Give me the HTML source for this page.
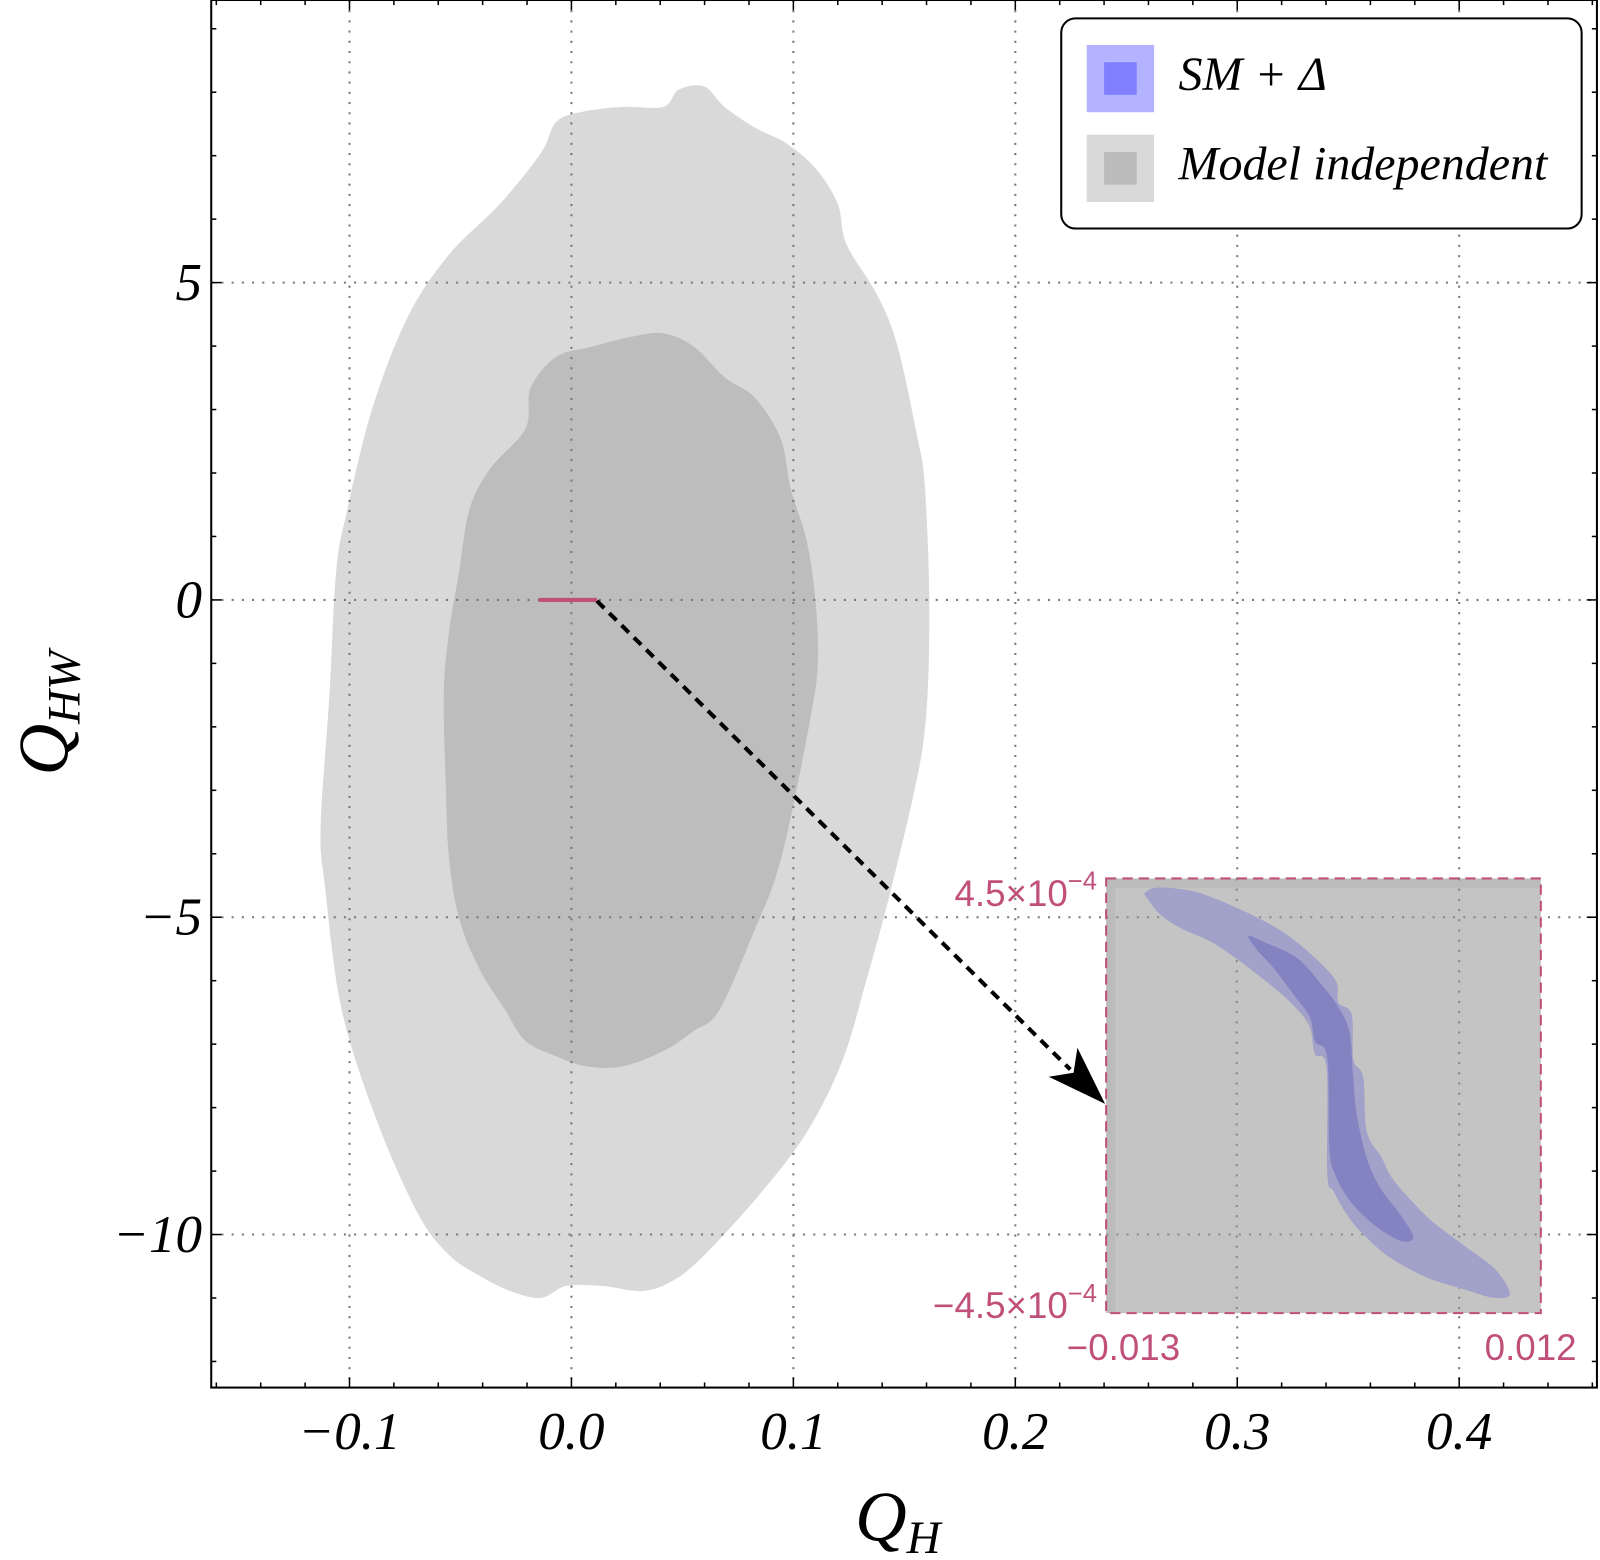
<!DOCTYPE html>
<html><head><meta charset="utf-8"><style>
html,body{margin:0;padding:0;background:#fff;}
svg{display:block;}
text{font-family:"Liberation Serif","DejaVu Serif",serif;}
</style></head><body>
<svg id="chart" width="1600" height="1560" viewBox="0 0 1568 1529" preserveAspectRatio="none" xmlns="http://www.w3.org/2000/svg">
<g id="plot"></g>
</svg>
<script>
// ---- data ----
const xTicks = [-0.1, 0.0, 0.1, 0.2, 0.3, 0.4];
const xTickLabels = ["\u22120.1", "0.0", "0.1", "0.2", "0.3", "0.4"];
const yTicks = [5, 0, -5, -10];
const yTickLabels = ["5", "0", "\u22125", "\u221210"];
const outerQH = [0.0483,0.0598,0.069,0.0828,0.0966,0.110,0.120,0.124,0.138,0.147,0.156,0.159,0.161,0.161,0.159,0.154,0.143,0.133,0.122,0.106,0.085,0.060,0.046,0.032,0.0138,-0.0023,-0.0138,-0.0276,-0.0414,-0.0552,-0.069,-0.0874,-0.1035,-0.111,-0.113,-0.109,-0.106,-0.101,-0.0897,-0.0736,-0.0552,-0.0322,-0.0138,-0.0069,0.0046,0.023,0.0414];
const outerQHW = [8.04,8.09,7.77,7.44,7.20,6.80,6.24,5.60,4.79,3.99,2.54,1.90,0.45,-1.00,-2.12,-3.09,-4.70,-5.98,-7.27,-8.39,-9.36,-10.32,-10.72,-10.89,-10.81,-10.81,-11.00,-10.89,-10.65,-10.32,-9.68,-8.23,-6.46,-4.53,-3.57,-1.48,0.45,1.42,3.02,4.47,5.44,6.24,7.04,7.53,7.69,7.77,7.77];
const innerQH = [0.0276,0.0414,0.0552,0.069,0.0828,0.0943,0.0989,0.106,0.110,0.111,0.108,0.0989,0.092,0.0828,0.0667,0.0552,0.0414,0.023,0.0069,-0.0069,-0.0207,-0.0299,-0.0414,-0.0506,-0.0552,-0.0566,-0.0575,-0.0552,-0.0506,-0.046,-0.0368,-0.0207,-0.0184,-0.0069,0.0092];
const innerQHW = [4.15,4.20,3.99,3.51,3.18,2.54,1.74,0.93,-0.03,-1.00,-1.80,-3.41,-4.37,-5.18,-6.46,-6.79,-7.11,-7.35,-7.35,-7.19,-6.95,-6.46,-5.82,-5.02,-4.05,-2.93,-1.48,-0.51,0.45,1.42,2.06,2.70,3.34,3.83,3.99];
const smRange = [-0.0147, 0.0115];
// inset data: x in units of 1e-3, y in units of 1e-4
const insetXRange = [-13, 12];
const insetYRange = [-4.5, 4.5];
const band2X = [-10.76,-10.09,-8.17,-6.64,-4.53,-2.62,-0.70,0.26,0.35,1.12,1.22,1.79,1.98,2.85,3.42,4.47,5.81,7.73,9.45,10.22,9.26,7.54,5.43,3.32,1.79,0.83,0.07,-0.28,-0.32,-0.99,-1.27,-1.94,-2.81,-4.05,-5.59,-7.02,-8.75,-9.90,-10.66];
const band2Y = [4.20,4.31,4.25,4.07,3.73,3.34,2.76,2.34,1.93,1.69,0.75,0.38,-0.73,-1.28,-1.69,-2.14,-2.62,-3.14,-3.62,-4.11,-4.18,-4.00,-3.76,-3.35,-2.87,-2.45,-1.97,-1.62,0.58,0.86,1.41,1.76,2.07,2.44,2.86,3.20,3.48,3.76,4.10];
const band1X = [-4.82,-3.96,-2.04,-0.70,0.26,0.99,1.18,1.41,1.98,2.75,3.90,4.67,3.90,2.37,1.03,0.16,-0.16,-0.28,-0.99,-1.27,-2.23,-3.38,-4.34];
const band1Y = [3.31,3.19,2.86,2.34,1.89,1.34,0.51,-0.38,-1.28,-1.90,-2.45,-2.93,-3.00,-2.66,-2.18,-1.62,-1.07,0.79,1.13,1.62,2.10,2.65,3.03];

// ---- layout ----
const NS = "http://www.w3.org/2000/svg";
const L = 207, R = 1565, T = 0, B = 1360;
const sx = v => 560 + v * 2175;
const sy = v => 588 - v * 62.2;
const IL = 1084, IR = 1510, IT = 861, IB = 1287;
const ix = v => IL + (v - insetXRange[0]) / (insetXRange[1] - insetXRange[0]) * (IR - IL);
const iy = v => IT + (insetYRange[1] - v) / (insetYRange[1] - insetYRange[0]) * (IB - IT);
const g = document.getElementById('plot');
function mk(tag, attrs, parent) {
  const e = document.createElementNS(NS, tag);
  for (const k in attrs) e.setAttribute(k, attrs[k]);
  (parent || g).appendChild(e);
  return e;
}
function smoothPath(xs, ys, fx, fy) {
  const p = xs.map((x, i) => [fx(x), fy(ys[i])]);
  const n = p.length;
  let d = `M${p[0][0]},${p[0][1]}`;
  for (let i = 0; i < n; i++) {
    const p0 = p[(i - 1 + n) % n], p1 = p[i], p2 = p[(i + 1) % n], p3 = p[(i + 2) % n];
    const c1 = [p1[0] + (p2[0] - p0[0]) / 6, p1[1] + (p2[1] - p0[1]) / 6];
    const c2 = [p2[0] - (p3[0] - p1[0]) / 6, p2[1] - (p3[1] - p1[1]) / 6];
    d += `C${c1[0]},${c1[1]} ${c2[0]},${c2[1]} ${p2[0]},${p2[1]}`;
  }
  return d + 'Z';
}

// contours
let e = mk('path', {d: smoothPath(outerQH, outerQHW, sx, sy), fill: '#d9d9d9'});


e = mk('path', {d: smoothPath(innerQH, innerQHW, sx, sy), fill: '#bdbdbd'});



// grid
xTicks.forEach(t => {
  const l = mk('line', {x1: sx(t), x2: sx(t), y1: T, y2: B, stroke: '#777', 'stroke-width': 2, 'stroke-dasharray': '2 8'});
  
  
});
yTicks.forEach(t => {
  const l = mk('line', {x1: L, x2: R, y1: sy(t), y2: sy(t), stroke: '#777', 'stroke-width': 2, 'stroke-dasharray': '2 8'});
  
  
});

// inset
e = mk('rect', {x: IL, y: IT, width: IR - IL, height: IB - IT, fill: '#bbbbbb'});


e = mk('rect', {x: IL + 9, y: IT + 9, width: IR - IL - 9, height: IB - IT - 9, fill: '#c4c4c4'});


[1212, 1430].forEach(x => {
  const l = mk('line', {x1: x, x2: x, y1: IT, y2: IB, stroke: '#888', 'stroke-width': 2, 'stroke-dasharray': '2 8'});
  
  
});
[sy(-5), sy(-10)].forEach(y => {
  const l = mk('line', {x1: IL, x2: IR, y1: y, y2: y, stroke: '#888', 'stroke-width': 2, 'stroke-dasharray': '2 8'});
  
  
});
e = mk('path', {d: smoothPath(band2X, band2Y, ix, iy), fill: '#a1a1c9'});


e = mk('path', {d: smoothPath(band1X, band1Y, ix, iy), fill: '#8383c1'});


e = mk('rect', {x: IL, y: IT, width: IR - IL, height: IB - IT, fill: 'none', stroke: '#c0507a', 'stroke-width': 2, 'stroke-dasharray': '10 6'});


const insetLabels = [
  {x: 1075, y: 888, a: 'end', t: '4.5\u00d710', s: '\u22124', n: 'inset-y-max-label'},
  {x: 1075, y: 1292, a: 'end', t: '\u22124.5\u00d710', s: '\u22124', n: 'inset-y-min-label'},
  {x: 1101, y: 1333, a: 'middle', t: '\u22120.013', s: '', n: 'inset-x-min-label'},
  {x: 1500, y: 1333, a: 'middle', t: '0.012', s: '', n: 'inset-x-max-label'}
];
insetLabels.forEach(o => {
  const t = mk('text', {x: o.x, y: o.y, 'text-anchor': o.a, fill: '#c0507a', 'font-size': 36, style: 'font-family:"Liberation Sans",sans-serif'});
  
  
  t.textContent = o.t;
  if (o.s) {
    const ts = mk('tspan', {dy: -16, 'font-size': 25}, t);
    ts.textContent = o.s;
  }
});

// SM segment
e = mk('line', {x1: sx(smRange[0]), x2: sx(smRange[1]), y1: sy(0), y2: sy(0), stroke: '#c0507a', 'stroke-width': 4});



// arrow
const ax0 = sx(smRange[1]), ay0 = sy(0) + 1, ax1 = IL - 1, ay1 = 1082;
const ang = Math.atan2(ay1 - ay0, ax1 - ax0);
const hl = 58, hw = 20;
const bx = ax1 - hl * Math.cos(ang), by = ay1 - hl * Math.sin(ang);
e = mk('line', {x1: ax0, y1: ay0, x2: bx + 10 * Math.cos(ang), y2: by + 10 * Math.sin(ang), stroke: '#000', 'stroke-width': 4, 'stroke-dasharray': '10 7'});


const px = -Math.sin(ang), py = Math.cos(ang);
const notchX = ax1 - hl * 0.75 * Math.cos(ang), notchY = ay1 - hl * 0.75 * Math.sin(ang);
e = mk('polygon', {points: `${ax1},${ay1} ${bx + px * hw},${by + py * hw} ${notchX},${notchY} ${bx - px * hw},${by - py * hw}`, fill: '#000'});



// frame and ticks
e = mk('rect', {x: L, y: T, width: R - L, height: B - T, fill: 'none', stroke: '#000', 'stroke-width': 2});


for (let k = -8; k <= 23; k++) {
  const v = k * 0.02, x = sx(v);
  if (x < L || x > R) continue;
  const major = k % 5 === 0, len = major ? 10 : 5;
  const a = mk('line', {x1: x, x2: x, y1: B, y2: B - len, stroke: '#000', 'stroke-width': 1.5});
  
  
  const b = mk('line', {x1: x, x2: x, y1: T, y2: T + len, stroke: '#000', 'stroke-width': 1.5});
  
  
}
for (let v = -12; v <= 9; v++) {
  const y = sy(v), major = v % 5 === 0, len = major ? 10 : 5;
  const a = mk('line', {x1: L, x2: L + len, y1: y, y2: y, stroke: '#000', 'stroke-width': 1.5});
  
  
  const b = mk('line', {x1: R, x2: R - len, y1: y, y2: y, stroke: '#000', 'stroke-width': 1.5});
  
  
}
xTicks.forEach((t, i) => {
  const tx = mk('text', {x: sx(t), y: 1420, 'text-anchor': 'middle', 'font-size': 52, 'font-style': 'italic'});
  
  
  tx.textContent = xTickLabels[i];
});
yTicks.forEach((t, i) => {
  const tx = mk('text', {x: 198, y: sy(t) + 17, 'text-anchor': 'end', 'font-size': 52, 'font-style': 'italic'});
  
  
  tx.textContent = yTickLabels[i];
});

// axis titles
e = mk('text', {x: 838, y: 1510, 'font-size': 70, 'font-style': 'italic'});


e.textContent = 'Q';
mk('tspan', {dy: 12, 'font-size': 46}, e).textContent = 'H';
e = mk('text', {x: 0, y: 0, 'font-size': 70, 'font-style': 'italic'});
e.setAttribute('transform', 'translate(66,760) rotate(-90)');


e.textContent = 'Q';
mk('tspan', {dy: 12, 'font-size': 46}, e).textContent = 'HW';

// legend
const lg = mk('g', {});


mk('rect', {x: 1040, y: 18, width: 510, height: 206, rx: 14, fill: '#fff', stroke: '#000', 'stroke-width': 2}, lg);
const legendEntries = [
  {o: '#b3b3ff', i: '#8080ff', t: 'SM + \u0394', y: 44, n: 'legend-entry-sm-delta'},
  {o: '#d9d9d9', i: '#bbbbbb', t: 'Model independent', y: 132, n: 'legend-entry-model-independent'}
];
legendEntries.forEach(o => {
  const eg = mk('g', {}, lg);
  
  
  mk('rect', {x: 1065, y: o.y, width: 66, height: 66, fill: o.o}, eg);
  mk('rect', {x: 1082, y: o.y + 17, width: 32, height: 32, fill: o.i}, eg);
  const t = mk('text', {x: 1155, y: o.y + 44, 'font-size': 47, 'font-style': 'italic'}, eg);
  t.textContent = o.t;
});
</script>
</body></html>
